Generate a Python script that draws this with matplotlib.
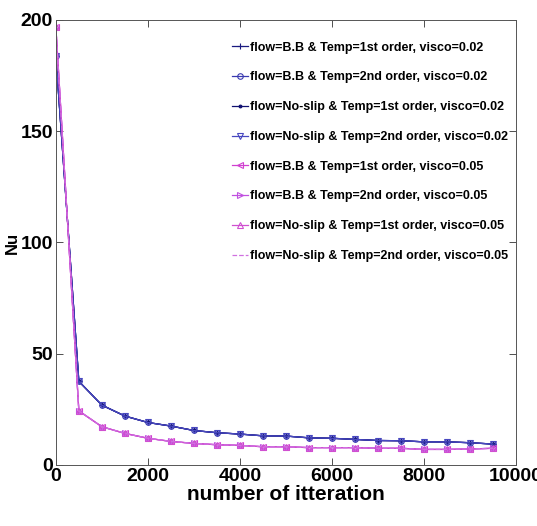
import matplotlib
matplotlib.use("Agg")
import matplotlib.pyplot as plt
from matplotlib import font_manager as fm

iters = [0, 500, 1000, 1500, 2000, 2500, 3000, 3500, 4000, 4500,
         5000, 5500, 6000, 6500, 7000, 7500, 8000, 8500, 9000, 9500]
nu_visco002 = [184, 37.6, 26.9, 22.0, 19.1, 17.5, 15.5, 14.5, 13.9, 13.1,
               13.0, 12.2, 12.0, 11.5, 11.0, 10.9, 10.4, 10.4, 10.0, 9.4]
nu_visco005 = [197, 24.3, 17.2, 14.2, 12.0, 10.6, 9.7, 9.1, 8.8, 8.2,
               8.2, 7.8, 7.8, 7.8, 7.5, 7.5, 7.0, 7.0, 7.2, 7.5]
labels = [
    "flow=B.B & Temp=1st order, visco=0.02",
    "flow=B.B & Temp=2nd order, visco=0.02",
    "flow=No-slip & Temp=1st order, visco=0.02",
    "flow=No-slip & Temp=2nd order, visco=0.02",
    "flow=B.B & Temp=1st order, visco=0.05",
    "flow=B.B & Temp=2nd order, visco=0.05",
    "flow=No-slip & Temp=1st order, visco=0.05",
    "flow=No-slip & Temp=2nd order, visco=0.05",
]
xticks = [0, 2000, 4000, 6000, 8000, 10000]
yticks = [0, 50, 100, 150, 200]

names = {f.name for f in fm.fontManager.ttflist}
fam = "Liberation Sans Narrow" if "Liberation Sans Narrow" in names else "Liberation Sans"
plt.rcParams['font.family'] = [fam, 'DejaVu Sans']
plt.rcParams['font.weight'] = 'bold'

fig = plt.figure(figsize=(5.37, 5.26), dpi=100)
ax = fig.add_axes([0.104, 0.116, 0.857, 0.846])

styles = [
    dict(color="#1a1a80", marker="+", ls="-"),
    dict(color="#3a3ab0", marker="o", ls="-", mfc="none"),
    dict(color="#101070", marker=".", ls="-"),
    dict(color="#4848c0", marker="v", ls="-", mfc="none"),
    dict(color="#d040d0", marker="<", ls="-", mfc="none"),
    dict(color="#c050e0", marker=">", ls="-", mfc="none"),
    dict(color="#d050d0", marker="^", ls="-", mfc="none"),
    dict(color="#d070e0", marker="", ls="--"),
]
for i, (lab, st) in enumerate(zip(labels, styles)):
    y = nu_visco002 if i < 4 else nu_visco005
    ax.plot(iters, y, label=lab, lw=0.9, ms=4, mew=0.8, **st)

ax.set_xlim(0, 10000)
ax.set_ylim(0, 200)
ax.set_xticks(xticks)
ax.set_yticks(yticks)
ax.tick_params(direction='in', top=True, right=True, labelsize=14, length=5, width=0.6, pad=2, colors='#333333', labelcolor='black')
for s in ax.spines.values():
    s.set_color('#555555')
    s.set_linewidth(0.7)
ax.set_xlabel("number of itteration", fontsize=15, fontweight='bold', labelpad=0)
ax.set_ylabel("Nu", fontsize=12, fontweight='bold')
ax.yaxis.set_label_coords(-0.078, 0.5)

leg = ax.legend(loc='upper right', bbox_to_anchor=(1.0, 0.968), frameon=False,
                fontsize=9, handlelength=1.3, handletextpad=0.2, labelspacing=1.42,
                borderaxespad=0.2)
fig.savefig("out.png", dpi=100)
